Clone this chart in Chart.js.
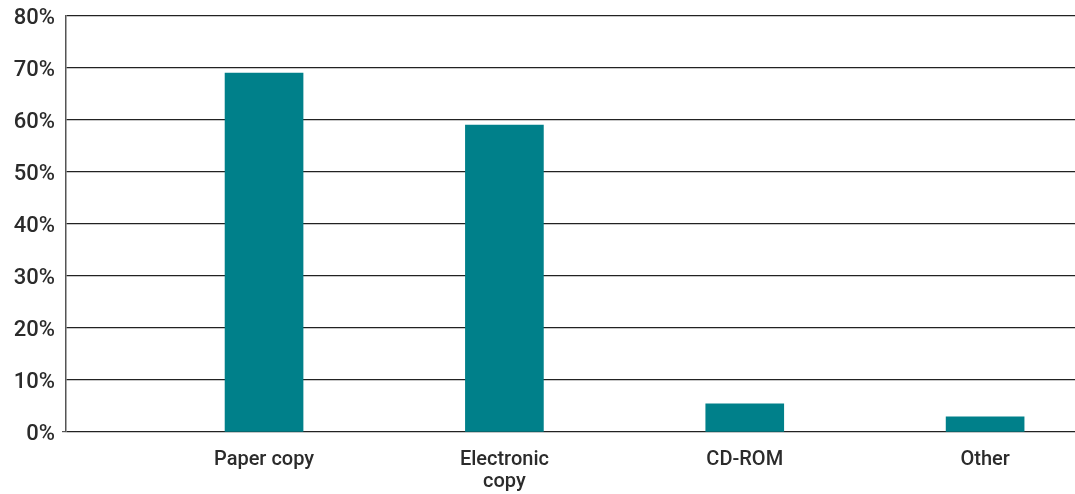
<!DOCTYPE html>
<html>
<head>
<meta charset="utf-8">
<script src="https://cdn.jsdelivr.net/npm/chart.js@4/dist/chart.umd.min.js"></script>
<style>
    html, body { margin: 0; padding: 0; background: #ffffff; }
    #wrap { width: 1075px; height: 494px; position: relative; }
</style>
</head>
<body>
<div id="wrap"><canvas id="chart"></canvas></div>
<script>
// Chart data
const categories = ['Paper copy', ['Electronic', 'copy'], 'CD-ROM', 'Other'];
const shares = [69, 59, 5.4, 2.9];
const yTicks = [0, 10, 20, 30, 40, 50, 60, 70, 80];

const barColor = '#00808a';
const textColor = '#2b2b2b';
const fontFamily = 'Roboto, "DejaVu Sans", sans-serif';

const ctx = document.getElementById('chart').getContext('2d');
new Chart(ctx, {
    type: 'bar',
    data: {
        datasets: [{
            data: shares.map((v, i) => ({ x: i + 1, y: v })),
            backgroundColor: barColor,
            borderWidth: 0,
            barThickness: 78
        }]
    },
    options: {
        responsive: true,
        maintainAspectRatio: false,
        animation: false,
        layout: { padding: { top: 16, right: 0, left: 0, bottom: 0 } },
        plugins: {
            legend: { display: false },
            tooltip: { enabled: false }
        },
        scales: {
            x: {
                type: 'linear',
                offset: false,
                min: 0.176,
                max: 4.374,
                afterBuildTicks: axis => {
                    axis.ticks = categories.map((c, i) => ({ value: i + 1 }));
                },
                afterFit: axis => {
                    axis.height = 62;
                    axis.paddingLeft = 0;
                    axis.paddingRight = 0;
                },
                grid: { display: false, offset: false },
                border: { display: false },
                ticks: {
                    maxRotation: 0,
                    autoSkip: false,
                    padding: 9,
                    color: textColor,
                    font: { family: fontFamily, size: 20, weight: '500', lineHeight: 1.1 },
                    callback: value => categories[value - 1] || ''
                }
            },
            y: {
                min: 0,
                max: 80,
                afterBuildTicks: axis => {
                    axis.ticks = yTicks.map(v => ({ value: v }));
                },
                afterFit: axis => {
                    axis.width = 66;
                    axis.paddingTop = 0;
                    axis.paddingBottom = 0;
                },
                grid: {
                    color: '#222222',
                    lineWidth: 1.2,
                    tickLength: 4,
                    tickColor: c => c.tick && c.tick.value === 0 ? '#555555' : 'rgba(0,0,0,0)'
                },
                border: { display: true, color: '#555555', width: 1.5 },
                ticks: {
                    padding: 7,
                    labelOffset: 2,
                    color: textColor,
                    font: { family: fontFamily, size: 22, weight: '500' },
                    callback: value => value + '%'
                }
            }
        }
    }
});
</script>
</body>
</html>
